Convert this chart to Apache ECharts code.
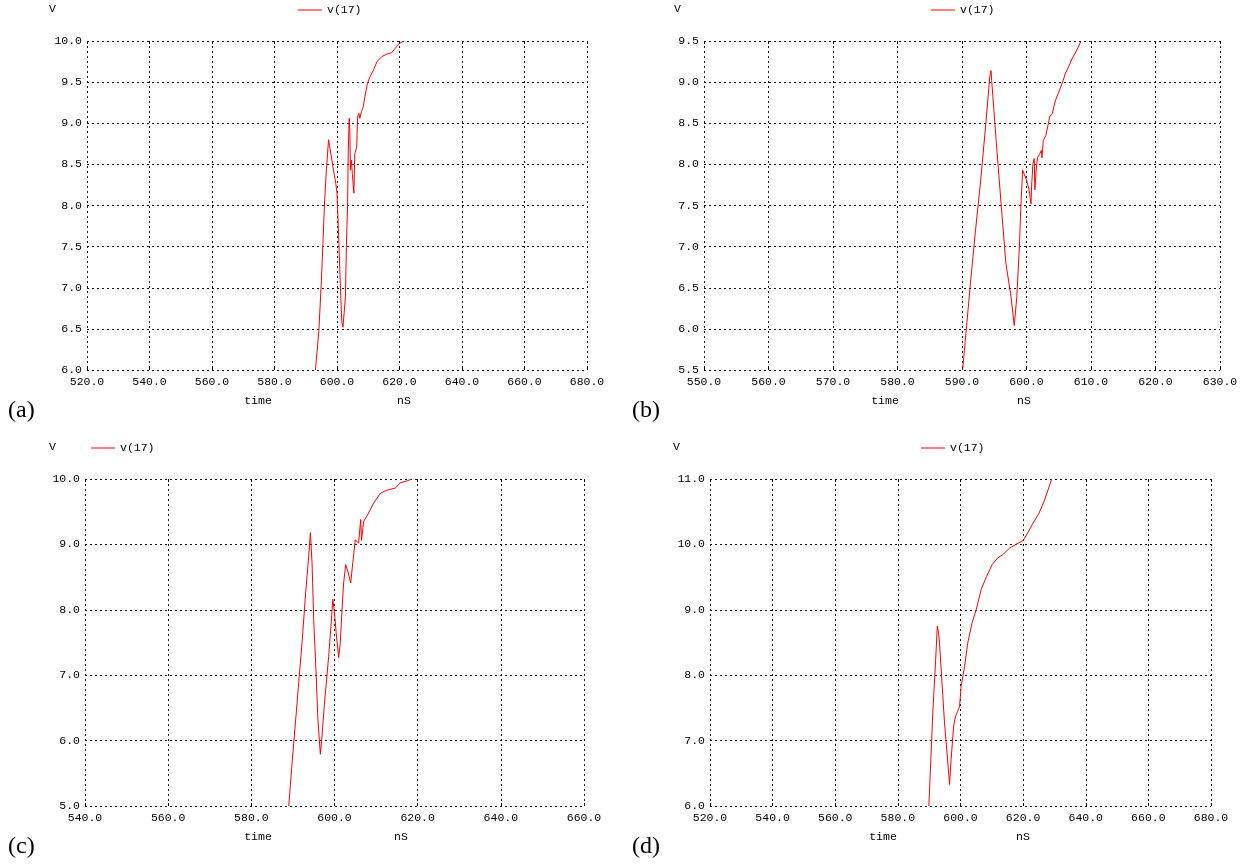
<!DOCTYPE html>
<html>
<head>
<meta charset="utf-8">
<script src="https://cdn.jsdelivr.net/npm/echarts@6/dist/echarts.min.js"></script>
<style>
html,body{margin:0;padding:0;background:#fff;}
#chart{width:1250px;height:867px;}
</style>
</head>
<body>
<div id="chart"></div>
<script>
// ---- Data (time in nS, voltage in V) ----
const seriesName = 'v(17)';

const aTime = [593.1,594.2,595.0,595.5,596.0,596.6,597.3,597.6,598.7,599.6,600.0,600.3,600.6,601.1,601.5,601.9,602.4,602.7,603.0,603.4,603.6,603.9,604.1,604.3,604.6,604.9,605.4,605.7,606.3,606.6,607.0,607.3,607.8,608.4,608.9,609.7,610.5,611.7,612.8,614.3,615.9,617.5,618.6,620.0,621.3];
const aVolt = [6.0,6.48,7.09,7.54,8.03,8.43,8.8,8.73,8.47,8.27,8.15,7.86,7.54,7.0,6.6,6.52,6.5,6.89,7.5,8.03,8.67,9.06,8.92,8.43,8.55,8.39,8.15,8.63,8.71,9.08,9.12,9.06,9.14,9.2,9.32,9.48,9.56,9.65,9.75,9.81,9.84,9.86,9.91,9.97,10.0];

const bTime = [590.1,591.3,592.1,592.9,593.7,594.3,594.5,594.6,595.3,596.1,596.8,597.6,598.1,598.5,598.9,599.1,599.4,600.0,600.4,600.7,600.8,601.0,601.2,601.3,601.5,601.7,602.0,602.3,602.4,602.6,603.0,603.4,603.6,604.0,604.3,604.5,605.0,605.6,606.0,606.6,607.1,607.8,608.4];
const bVolt = [5.5,6.55,7.2,7.81,8.5,9.06,9.14,9.02,8.29,7.48,6.8,6.39,6.04,6.39,7.0,7.44,7.93,7.81,7.69,7.52,7.75,8.01,8.07,7.69,7.93,8.08,8.12,8.17,8.08,8.29,8.35,8.5,8.58,8.62,8.72,8.78,8.88,9.0,9.1,9.2,9.29,9.39,9.49];

const cTime = [589.0,589.8,590.6,591.4,592.2,593.0,593.8,594.2,594.6,595.0,595.6,596.0,596.6,597.0,597.6,598.6,599.2,599.6,600.0,600.4,601.0,601.4,601.8,602.2,602.7,603.2,603.9,604.4,605.0,605.4,605.8,606.2,606.3,606.5,607.0,607.4,608.2,609.4,611.0,612.6,614.6,615.8,617.4,618.6];
const cVolt = [5.0,5.66,6.27,6.89,7.5,8.21,8.82,9.18,8.72,7.85,6.99,6.33,5.79,6.07,6.58,7.29,7.8,8.16,7.95,7.65,7.27,7.5,8.0,8.41,8.69,8.59,8.41,8.72,9.07,9.1,9.02,9.04,9.38,9.06,9.35,9.38,9.48,9.63,9.78,9.83,9.86,9.94,9.97,10.0];

const dTime = [589.9,590.7,591.2,591.9,592.6,593.0,593.3,594.1,594.9,595.7,596.5,597.0,597.8,598.4,599.1,599.7,600.2,601.3,602.3,603.7,605.0,606.6,608.3,610.1,611.8,613.4,615.6,617.7,620.0,621.4,622.9,625.1,626.7,628.0,629.1];
const dVolt = [6.0,6.91,7.47,8.08,8.75,8.65,8.49,7.88,7.27,6.81,6.33,6.71,7.22,7.37,7.45,7.52,7.83,8.13,8.49,8.8,9.0,9.31,9.51,9.69,9.79,9.84,9.94,10.0,10.06,10.17,10.3,10.48,10.66,10.84,11.0];

// axis ranges: [xmin, xmax, xstep, ymin, ymax, ystep]
const aAxes = [520, 680, 20, 6.0, 10.0, 0.5];
const bAxes = [550, 630, 10, 5.5, 9.5, 0.5];
const cAxes = [540, 660, 20, 5.0, 10.0, 1.0];
const dAxes = [520, 680, 20, 6.0, 11.0, 1.0];

const panelLabels = ['(a)', '(b)', '(c)', '(d)'];

// ---- Layout ----
const MONO = '"Liberation Mono", "DejaVu Sans Mono", monospace';
const panels = [
  {time: aTime, volt: aVolt, axes: aAxes, grid: {left: 87, top: 41, width: 500, height: 329}, vx: 49, legendX: 293, tx: 258, nx: 404, lx: 8, textTop: 0},
  {time: bTime, volt: bVolt, axes: bAxes, grid: {left: 704, top: 41, width: 516, height: 329}, vx: 674, legendX: 926, tx: 885, nx: 1024, lx: 632, textTop: 0},
  {time: cTime, volt: cVolt, axes: cAxes, grid: {left: 85, top: 479, width: 499, height: 327}, vx: 49, legendX: 86, tx: 258, nx: 401, lx: 8, textTop: 438},
  {time: dTime, volt: dVolt, axes: dAxes, grid: {left: 710, top: 479, width: 501, height: 327}, vx: 673, legendX: 916, tx: 883, nx: 1023, lx: 632, textTop: 438}
];

const gridLine = {show: true, lineStyle: {color: '#111', width: 1, type: [2, 3]}};

const option = {
  animation: false,
  backgroundColor: '#fff',
  grid: [], xAxis: [], yAxis: [], series: [], legend: [], graphic: []
};

panels.forEach((p, i) => {
  const [x0, x1, xs, y0, y1, ys] = p.axes;
  option.grid.push(Object.assign({containLabel: false}, p.grid));
  option.xAxis.push({
    type: 'value', gridIndex: i, min: x0, max: x1, interval: xs,
    axisLine: {show: false},
    axisTick: {show: true, inside: true, length: 3, lineStyle: {color: '#000'}},
    splitLine: gridLine,
    axisLabel: {fontFamily: MONO, fontSize: 11.5, color: '#000', margin: 6, formatter: v => v.toFixed(1)}
  });
  option.xAxis.push({
    type: 'value', gridIndex: i, position: 'top', min: x0, max: x1, interval: xs,
    axisLine: {show: false},
    axisTick: {show: true, inside: true, length: 3, lineStyle: {color: '#000'}},
    splitLine: {show: false},
    axisLabel: {show: false}
  });
  option.yAxis.push({
    type: 'value', gridIndex: i, min: y0, max: y1, interval: ys,
    axisLine: {show: false},
    axisTick: {show: false},
    splitLine: gridLine,
    axisLabel: {fontFamily: MONO, fontSize: 11.5, color: '#000', margin: 5, formatter: v => v.toFixed(1)}
  });
  option.series.push({
    name: seriesName, type: 'line', xAxisIndex: i * 2, yAxisIndex: i,
    data: p.time.map((t, k) => [t, p.volt[k]]),
    showSymbol: false, symbol: 'none', clip: true,
    lineStyle: {color: '#ff0000', width: 1},
    itemStyle: {color: '#ff0000'}
  });
  option.legend.push({
    data: [seriesName], left: p.legendX, top: p.textTop - 1,
    icon: 'path://M0,0L24,0L24,1L0,1Z', itemWidth: 24, itemHeight: 1,
    textStyle: {fontFamily: MONO, fontSize: 11.5, color: '#000'},
    selectedMode: false
  });
  const axisBottom = p.grid.top + p.grid.height;
  option.graphic.push(
    {type: 'text', left: p.vx, top: p.textTop + 3, style: {text: 'V', font: '11.5px ' + MONO, fill: '#000'}},
    {type: 'text', x: p.tx, y: axisBottom + 31, style: {text: 'time', font: '11.5px ' + MONO, fill: '#000', align: 'center', verticalAlign: 'middle'}},
    {type: 'text', x: p.nx, y: axisBottom + 31, style: {text: 'nS', font: '11.5px ' + MONO, fill: '#000', align: 'center', verticalAlign: 'middle'}},
    {type: 'text', x: p.lx, y: axisBottom + 41, style: {text: panelLabels[i], font: '24px "Liberation Serif", "DejaVu Serif", serif', fill: '#000', verticalAlign: 'middle'}}
  );
});

const chart = echarts.init(document.getElementById('chart'), null, {renderer: 'canvas'});
chart.setOption(option);
</script>
</body>
</html>
